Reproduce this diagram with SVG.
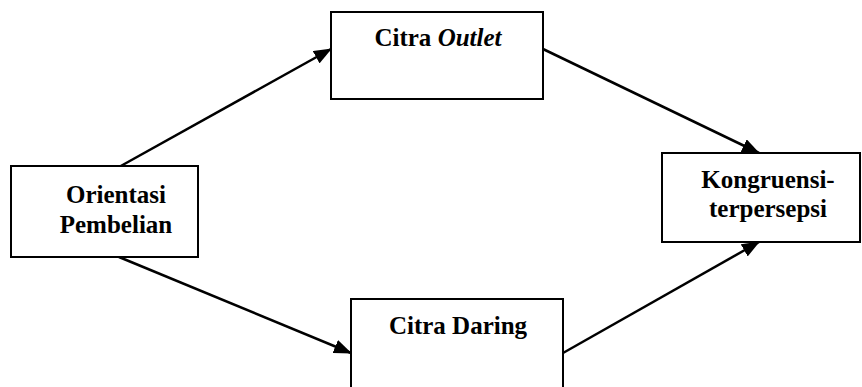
<svg xmlns="http://www.w3.org/2000/svg" width="862" height="387" viewBox="0 0 862 387">
  <style>
    .box { fill: #fff; stroke: #000; stroke-width: 2; }
    .lbl { font-family: 'Liberation Serif', 'Times New Roman', Times, serif; font-size: 25px; font-weight: bold; fill: #000; text-anchor: middle; }
    .edge { stroke: #000; stroke-width: 2.5; fill: none; marker-end: url(#arrow); }
  </style>
  <defs>
    <marker id="arrow" markerWidth="18" markerHeight="14" refX="17" refY="7" orient="auto" markerUnits="userSpaceOnUse">
      <path d="M0,0 L18,7 L0,14 Z" fill="#000"/>
    </marker>
  </defs>
  <rect width="862" height="387" fill="#fff"/>
  <g id="connectors">
    <line class="edge" x1="119" y1="167" x2="331" y2="49"/>
    <line class="edge" x1="543" y1="49" x2="759" y2="153"/>
    <line class="edge" x1="119" y1="257" x2="351" y2="353"/>
    <line class="edge" x1="563" y1="353" x2="759" y2="242"/>
  </g>
  <g id="orientasi">
    <rect class="box" x="11" y="166" width="187" height="91"/>
    <text class="lbl" x="116" y="203" font-family="Liberation Serif, serif">Orientasi</text>
    <text class="lbl" x="116" y="233" font-family="Liberation Serif, serif">Pembelian</text>
  </g>
  <g id="citra-outlet">
    <rect class="box" x="331" y="12" width="212" height="87"/>
    <text class="lbl" x="438" y="46" font-family="Liberation Serif, serif">Citra <tspan font-style="italic">Outlet</tspan></text>
  </g>
  <g id="citra-daring">
    <rect class="box" x="351" y="299" width="212" height="95"/>
    <text class="lbl" x="458" y="334" font-family="Liberation Serif, serif">Citra Daring</text>
  </g>
  <g id="kongruensi">
    <rect class="box" x="662" y="153" width="198" height="89"/>
    <text class="lbl" x="768" y="188" font-family="Liberation Serif, serif">Kongruensi-</text>
    <text class="lbl" x="768" y="217" font-family="Liberation Serif, serif">terpersepsi</text>
  </g>
</svg>
